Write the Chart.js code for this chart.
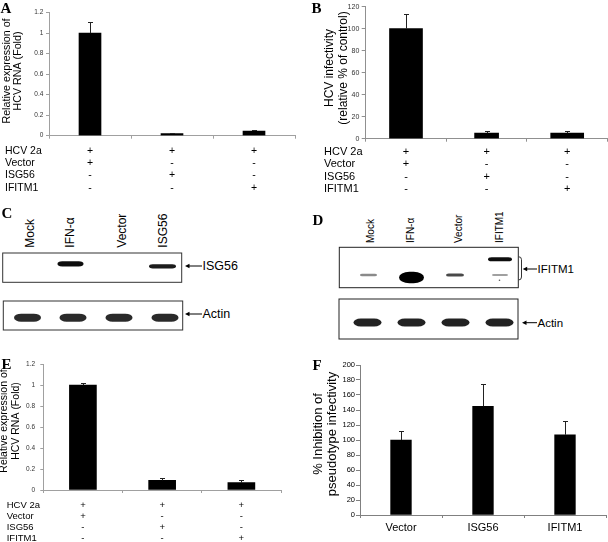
<!DOCTYPE html>
<html><head><meta charset="utf-8">
<script src="https://cdn.jsdelivr.net/npm/chart.js@4"></script>
<style>
html,body{margin:0;padding:0;background:#fff;}
#wrap{position:relative;width:608px;height:542px;overflow:hidden;background:#fff;}
canvas.c{position:absolute;}
svg.ov{position:absolute;left:0;top:0;}
</style></head><body>
<div id="wrap">
<svg id="svg" class="ov" width="608" height="542" xmlns="http://www.w3.org/2000/svg"></svg>
<canvas id="cA" class="c" style="left:0;top:0" width="300" height="200"></canvas>
<canvas id="cB" class="c" style="left:300px;top:0" width="308" height="200"></canvas>
<canvas id="cE" class="c" style="left:0;top:355px" width="300" height="187"></canvas>
<canvas id="cF" class="c" style="left:300px;top:355px" width="308" height="187"></canvas>
<svg id="letters" class="ov" width="608" height="542" xmlns="http://www.w3.org/2000/svg"></svg>
</div>
<script>
// ---------- data ----------
const rowNames = ['HCV 2a', 'Vector', 'ISG56', 'IFITM1'];
const treatmentSigns = [['+', '+', '-', '-'], ['+', '-', '+', '-'], ['+', '-', '-', '+']];
const aValues = [1.0, 0.02, 0.045];
const aErrors = [0.11, 0.003, 0.01];
const bValues = [100, 5, 5];
const bErrors = [13.5, 2, 2];
const eValues = [1.0, 0.093, 0.07];
const eErrors = [0.02, 0.025, 0.03];
const fCategories = ['Vector', 'ISG56', 'IFITM1'];
const fValues = [100, 145, 107];
const fErrors = [11.5, 30, 18];
const foldAxis = [0, 1.2, 0.2];
const bAxis = [0, 120, 20];
const fAxis = [0, 200, 20];
const blotCLanes = ['Mock', 'IFN-\u03b1', 'Vector', 'ISG56'];
const blotDLanes = ['Mock', 'IFN-\u03b1', 'Vector', 'IFITM1'];
const panelLetters = ['A', 'B', 'C', 'D', 'E', 'F'];

const FF = '"Liberation Sans", Arial, Helvetica, sans-serif';
Chart.defaults.font.family = FF;

function errPlugin() {
  return { id: 'errBars', afterDatasetsDraw(chart) {
    const ctx = chart.ctx, ys = chart.scales.y;
    ctx.save(); ctx.strokeStyle = '#222'; ctx.lineWidth = 1;
    chart.data.datasets.forEach((ds, i) => {
      const meta = chart.getDatasetMeta(i);
      meta.data.forEach((el, j) => {
        const v = ds.data[j]; if (v == null) return;
        const e = ds.errors[j];
        const x = Math.round(el.x) + 0.5;
        const yT = Math.round(ys.getPixelForValue(v + e)) + 0.5;
        ctx.beginPath(); ctx.moveTo(x, el.y); ctx.lineTo(x, yT);
        ctx.moveTo(x - 2.5, yT); ctx.lineTo(x + 2.5, yT); ctx.stroke();
      });
    });
    ctx.restore();
  }};
}
function rowPlugin(names, x, size, lh, off) {
  return { id: 'rowNames', afterDraw(chart) {
    const ctx = chart.ctx, xs = chart.scales.x;
    ctx.save(); ctx.fillStyle = '#000'; ctx.font = size + 'px ' + FF;
    ctx.textAlign = 'left'; ctx.textBaseline = 'middle';
    names.forEach((n, i) => ctx.fillText(n, x, xs.top + off + lh * (i + 0.5)));
    ctx.restore();
  }};
}
function titlePlugin(lines, x, y, size, lh) {
  return { id: 'vTitle', afterDraw(chart) {
    const ctx = chart.ctx;
    ctx.save(); ctx.fillStyle = '#000'; ctx.font = size + 'px ' + FF;
    ctx.textAlign = 'center'; ctx.textBaseline = 'middle';
    lines.forEach((t, i) => {
      ctx.save(); ctx.translate(x + i * lh, y); ctx.rotate(-Math.PI / 2);
      ctx.fillText(t, 0, 0); ctx.restore();
    });
    ctx.restore();
  }};
}

function barChart(id, s) {
  const cv = document.getElementById(id);
  const W = cv.width, H = cv.height, a = s.area;
  const datasets = s.series.map(se => ({
    data: se.data, errors: se.errors, backgroundColor: '#000', borderWidth: 0,
    barThickness: se.thickness, grouped: false
  }));
  const plugins = [errPlugin(), titlePlugin(s.title, s.tx, s.ty, s.tsize, s.tlh)];
  if (s.rows) plugins.push(rowPlugin(rowNames, s.rowX, s.xFont, s.xLH, s.xTick + s.xPad));
  return new Chart(cv, {
    type: 'bar',
    data: { labels: s.labels, datasets },
    options: {
      responsive: false, animation: false, events: [],
      layout: { padding: { left: 0, top: a.top, right: W - a.right, bottom: 0 } },
      plugins: { legend: { display: false }, tooltip: { enabled: false }, title: { display: false } },
      scales: {
        x: {
          offset: true,
          grid: { display: true, drawOnChartArea: false, drawTicks: true, tickLength: s.xTick, color: s.axisColor, offset: true },
          border: { display: true, color: s.axisColor, width: 1 },
          ticks: { color: '#000', font: { size: s.xFont, lineHeight: s.xLH / s.xFont }, padding: s.xPad, maxRotation: 0, minRotation: 0, autoSkip: false },
          afterFit(sc) { sc.height = H - a.bottom; }
        },
        y: {
          min: s.axis[0], max: s.axis[1],
          ticks: { stepSize: s.axis[2], color: s.tickColor, font: { size: s.yFont }, padding: s.yPad,
                   callback: v => String(Math.round(v * 10) / 10) },
          grid: { drawOnChartArea: false, drawTicks: true, tickLength: s.yTick, color: s.axisColor },
          border: { display: true, color: s.axisColor, width: 1 },
          afterFit(sc) { sc.width = a.left; }
        }
      }
    },
    plugins
  });
}

barChart('cA', {
  labels: treatmentSigns, axis: foldAxis,
  series: [{ data: aValues, errors: aErrors, thickness: 22 }],
  area: { left: 49, top: 12.7, right: 295, bottom: 135.7 },
  xFont: 10.5, xLH: 12.4, xTick: 3, xPad: 5.8, rows: true, rowX: 5,
  yFont: 6.5, yTick: 3, yPad: 2.7, tickColor: '#333', axisColor: '#a0a0a0',
  title: ['Relative expression of', 'HCV RNA (Fold)'], tx: 6.7, ty: 71, tsize: 10.7, tlh: 11.6
});

barChart('cB', {
  labels: treatmentSigns, axis: bAxis,
  series: [
    { data: bValues.map((v, i) => i === 1 ? null : v), errors: bErrors.map((v, i) => i === 1 ? null : v), thickness: 33 },
    { data: bValues.map((v, i) => i === 1 ? v : null), errors: bErrors.map((v, i) => i === 1 ? v : null), thickness: 24 }
  ],
  area: { left: 65.7, top: 4.2, right: 307.5, bottom: 138.7 },
  xFont: 11, xLH: 12.4, xTick: 3, xPad: 3.8, rows: true, rowX: 24,
  yFont: 7, yTick: 4, yPad: 2.4, tickColor: '#333', axisColor: '#909090',
  title: ['HCV infectivity', '(relative % of control)'], tx: 30, ty: 68, tsize: 12, tlh: 14
});

barChart('cE', {
  labels: treatmentSigns, axis: foldAxis,
  series: [{ data: eValues, errors: eErrors, thickness: 27 }],
  area: { left: 43.3, top: 5.7, right: 281, bottom: 135 },
  xFont: 9.5, xLH: 11.1, xTick: 3, xPad: 6.45, rows: true, rowX: 6.7,
  yFont: 6.5, yTick: 3, yPad: 5.3, tickColor: '#333', axisColor: '#a0a0a0',
  title: ['Relative expression of', 'HCV RNA (Fold)'], tx: 4.5, ty: 66, tsize: 10.5, tlh: 12
});

barChart('cF', {
  labels: fCategories, axis: fAxis,
  series: [{ data: fValues, errors: fErrors, thickness: 20.7 }],
  area: { left: 60, top: 10, right: 306, bottom: 160 },
  xFont: 11, xLH: 13.2, xTick: 3, xPad: 3.7, rows: false,
  yFont: 7.5, yTick: 4, yPad: 1, tickColor: '#000', axisColor: '#808080',
  title: ['% Inhibition of', 'pseudotype infectivity'], tx: 18.7, ty: 79, tsize: 13, tlh: 13.8
});

// ---------- western blot panels (images, drawn as SVG) ----------
const NS = 'http://www.w3.org/2000/svg';
let target = document.getElementById('svg');
function el(tag, attrs, text) {
  const e = document.createElementNS(NS, tag);
  for (const k in attrs) e.setAttribute(k, attrs[k]);
  if (text != null) e.textContent = text;
  target.appendChild(e); return e;
}
const defs = el('defs', {});
const filt = document.createElementNS(NS, 'filter');
filt.setAttribute('id', 'blur'); filt.setAttribute('x', '-50%'); filt.setAttribute('y', '-100%');
filt.setAttribute('width', '200%'); filt.setAttribute('height', '300%');
const gb = document.createElementNS(NS, 'feGaussianBlur'); gb.setAttribute('stdDeviation', '0.7');
filt.appendChild(gb); defs.appendChild(filt);

function band(cx, cy, w, h, fill) {
  el('rect', { x: cx - w / 2, y: cy - h / 2, width: w, height: h, rx: Math.min(w / 2, h * 0.9), ry: h / 2, fill, filter: 'url(#blur)' });
}
function arrow(x1, x2, y, label, size) {
  el('line', { x1: x1 + 3, y1: y, x2: x2, y2: y, stroke: '#000', 'stroke-width': 1 });
  el('polygon', { points: `${x1},${y} ${x1 + 4.5},${y - 2.2} ${x1 + 4.5},${y + 2.2}`, fill: '#000' });
  el('text', { x: x2 + 0.5, y: y, 'font-family': FF, 'font-size': size, 'dominant-baseline': 'central', fill: '#000' }, label);
}
function laneLabel(x, yBottom, text, size) {
  el('text', { transform: `translate(${x},${yBottom}) rotate(-90)`, 'font-family': FF, 'font-size': size, 'dominant-baseline': 'central', fill: '#000' }, text);
}

// Panel C
const cLane = i => 27.5 + 46 * i;
blotCLanes.forEach((t, i) => laneLabel(cLane(i) + [2.5, -3.5, 2.5, -2.5][i], 247.7, t, 12));
el('rect', { x: 2.7, y: 253, width: 179, height: 29.3, fill: '#fff', stroke: '#333', 'stroke-width': 1 });
el('rect', { x: 3.3, y: 301, width: 179.4, height: 29, fill: '#fff', stroke: '#333', 'stroke-width': 1 });
band(cLane(1) - 3, 263.8, 26, 5.2, '#111');
band(cLane(3) - 3, 266.3, 27, 4.2, '#1a1a1a');
blotCLanes.forEach((t, i) => band(cLane(i) - (i === 0 ? 0 : 0.5), 317.7, 27, 8, '#2b2b2b'));
arrow(185, 202, 266, 'ISG56', 12.5);
arrow(185, 202, 314, 'Actin', 12.5);

// Panel D
const dLane = i => 367.5 + 44 * i;
blotDLanes.forEach((t, i) => laneLabel(dLane(i) + [3, -1.5, 2.5, -0.5][i], 243, t, 10));
el('rect', { x: 339.3, y: 247.3, width: 179, height: 40.4, fill: '#fff', stroke: '#222', 'stroke-width': 1 });
el('rect', { x: 339, y: 299, width: 179, height: 40, fill: '#fff', stroke: '#222', 'stroke-width': 1 });
band(dLane(0) + 1, 275, 17, 2.4, '#8a8a8a');
band(dLane(1), 277.5, 25, 11.5, '#050505');
band(dLane(2) - 0.5, 275, 18, 3, '#4a4a4a');
band(dLane(3) + 0.5, 275, 16, 2, '#a0a0a0');
band(dLane(3) + 0.5, 259.3, 24, 4, '#111');
el('circle', { cx: dLane(3), cy: 280.3, r: 0.8, fill: '#555' });
blotDLanes.forEach((t, i) => band(dLane(i), 322.5, 28, 8, '#222'));
el('path', { d: 'M518.5,256.7 Q521.5,256.7 521.5,259.7 L521.5,277 Q521.5,280 518.5,280', fill: 'none', stroke: '#333', 'stroke-width': 1 });
arrow(522.7, 537, 269, 'IFITM1', 11.5);
arrow(522, 537, 322.7, 'Actin', 11.5);

// panel letters (on top of the charts)
target = document.getElementById('letters');
const letterPos = [[0.5, 13], [311.5, 12.7], [1.5, 218.3], [312.5, 225], [1.5, 369], [312.5, 370]];
panelLetters.forEach((t, i) =>
  el('text', { x: letterPos[i][0], y: letterPos[i][1], 'font-family': '"Liberation Serif", "Times New Roman", serif', 'font-weight': 'bold', 'font-size': 15, fill: '#000' }, t));
</script>
</body></html>
